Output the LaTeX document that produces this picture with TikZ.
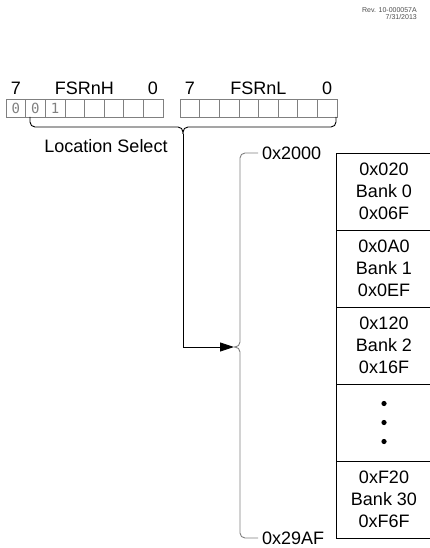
\documentclass[tikz,border=0pt]{standalone}
\usepackage{fontspec}
\setmainfont{Liberation Sans}
\newfontfamily\bitfont{DejaVu Sans Mono}
\usetikzlibrary{arrows.meta, positioning, calc}

\begin{document}
\begin{tikzpicture}[
  x=1pt, y=-1pt,
  font=\fontsize{18}{22}\selectfont,
  align=center,
  bitcell/.style={rectangle, draw=gray, line width=0.6pt,
                  minimum width=19.6pt, minimum height=18pt,
                  inner sep=0pt, outer sep=0pt},
  bitval/.style={font=\bitfont\fontsize{14}{14}\selectfont, text=gray, inner sep=0pt},
  reglbl/.style={inner sep=0pt},
  bank/.style={rectangle, minimum width=96pt, minimum height=77pt,
               inner sep=0pt, outer sep=0pt},
  bankline/.style={draw=black, line width=0.8pt},
  addr/.style={anchor=west, inner sep=0pt},
  brc/.style={line width=0.9pt, rounded corners=5pt},
]
\useasboundingbox (0,0) rectangle (430,548);

% Revision stamp
\node[font=\fontsize{7}{7.5}\selectfont, text=gray!60!black, align=right,
      anchor=north east, inner sep=0pt] (rev) at (417,7)
  {Rev. 10-000057A\\7/31/2013};

% FSRnH and FSRnL registers
\foreach \i in {0,...,7} {
  \node[bitcell] (h\i) at ({15.8+19.6*\i},108) {};
  \node[bitcell] (l\i) at ({189.8+19.6*\i},108) {};
}
\foreach \i/\v in {0/0,1/0,2/1}
  \node[bitval] at (h\i) {\v};

% Register labels
\node[reglbl, above=4pt of h0]            (h7lbl) {7};
\node[reglbl, above=4pt of h7]            (h0lbl) {0};
\node[reglbl, above=4pt of h3.north east] (hname) {FSRnH};
\node[reglbl, above=4pt of l0]            (l7lbl) {7};
\node[reglbl, above=4pt of l7]            (l0lbl) {0};
\node[reglbl, above=4pt of l3.north east] (lname) {FSRnL};

\node (locsel) at (106,146) {Location Select};

% Data memory banks (column runs off the right edge)
\node[bank, anchor=north west] (b0) at (336,153) {0x020\\Bank 0\\0x06F};
\node[bank, below=0pt of b0]   (b1) {0x0A0\\Bank 1\\0x0EF};
\node[bank, below=0pt of b1]   (b2) {0x120\\Bank 2\\0x16F};
\node[bank, below=0pt of b2]   (b3) {};
\node[bank, below=0pt of b3]   (b4) {0xF20\\Bank 30\\0xF6F};
\draw[bankline] ($(b0.north west)+(94,0)$) -- (b0.north west)
  -- (b4.south west) -- ++(94,0);
\foreach \n in {b0,b1,b2,b3}
  \draw[bankline] (\n.south west) -- ++(94,0);
\foreach \dy in {-19,0,19}
  \fill ($(b3.center)+(0,\dy)$) circle (2.6pt);

% Linear address range
\node[addr] (atop) at (262,153) {0x2000};
\node[addr] (abot) at (262,538) {0x29AF};

% Braces
\coordinate (selTip)  at (183,134);
\coordinate (addrTip) at (234,347);
\draw[brc] (30,117)  -- (30,127)  -- (183,127) -- (selTip);
\draw[brc] (336,117) -- (336,127) -- (183,127) -- (selTip);
\draw[brc, gray] ($(atop.west)+(-4,0)$) -- (240,153) -- (240,347) -- (addrTip);
\draw[brc, gray] (addrTip) -- (240,347) -- (240,538) -- ($(abot.west)+(-4,0)$);

% Select arrow
\draw[-{Triangle[length=14pt, width=9pt]}, line width=0.9pt] (selTip) |- (addrTip);

\end{tikzpicture}
\end{document}
